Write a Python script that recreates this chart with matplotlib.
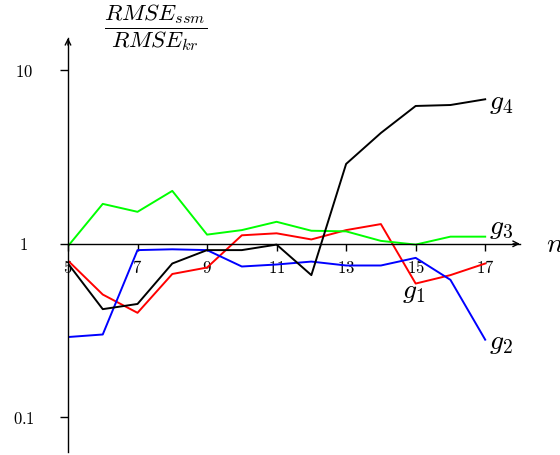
import numpy as np
import matplotlib
matplotlib.use("Agg")
import matplotlib.pyplot as plt
from matplotlib.ticker import FixedLocator, NullLocator, FixedFormatter

plt.rcParams['mathtext.fontset'] = 'cm'
plt.rcParams['font.family'] = 'serif'
plt.rcParams['font.serif'] = ['DejaVu Serif']

# ratio RMSE_ssm / RMSE_kr against n
n = [5, 6, 7, 8, 9, 10, 11, 12, 13, 14, 15, 16, 17]
g1 = [0.80, 0.51, 0.40, 0.67, 0.73, 1.12, 1.15, 1.06, 1.20, 1.30, 0.59, 0.66, 0.77]
g2 = [0.29, 0.30, 0.92, 0.93, 0.92, 0.74, 0.76, 0.79, 0.75, 0.75, 0.83, 0.62, 0.28]
g3 = [0.97, 1.70, 1.53, 2.02, 1.13, 1.20, 1.34, 1.19, 1.18, 1.04, 0.99, 1.10, 1.10]
g4 = [0.77, 0.42, 0.45, 0.77, 0.92, 0.92, 0.99, 0.66, 2.89, 4.36, 6.24, 6.32, 6.82]

xticks = [5, 7, 9, 11, 13, 15, 17]
yticks = [0.1, 1, 10]
ytick_labels = ['0.1', '1', '10']

fig = plt.figure(figsize=(5.6, 4.55), dpi=100)
ax = fig.add_axes([0.1214, 0.0066, 0.8071, 0.910])

ax.plot(n, g1, color='#ff0000', lw=1.4)
ax.plot(n, g2, color='#0000ff', lw=1.4)
ax.plot(n, g3, color='#00ff00', lw=1.4)
ax.plot(n, g4, color='black', lw=1.4)

ax.set_yscale('log')
ax.set_xlim(5, 18)
ax.set_ylim(0.063, 15.4)

# axes through (5, 1)
ax.spines['left'].set_position(('data', 5))
ax.spines['bottom'].set_position(('data', 1))
ax.spines['right'].set_visible(False)
ax.spines['top'].set_visible(False)
for s in ['left', 'bottom']:
    ax.spines[s].set_linewidth(1.0)

ax.annotate('', xy=(18, 1), xytext=(17.8, 1),
            arrowprops=dict(arrowstyle='->', lw=1.0, color='black',
                            shrinkA=0, shrinkB=0, mutation_scale=10))
ax.annotate('', xy=(5, 15.4), xytext=(5, 14.0),
            arrowprops=dict(arrowstyle='->', lw=1.0, color='black',
                            shrinkA=0, shrinkB=0, mutation_scale=10))

ax.xaxis.set_major_locator(FixedLocator(xticks))
ax.xaxis.set_major_formatter(FixedFormatter(['$%d$' % t for t in xticks]))
ax.yaxis.set_major_locator(FixedLocator(yticks))
ax.yaxis.set_minor_locator(NullLocator())
ax.yaxis.set_major_formatter(FixedFormatter(['$%s$' % t for t in ytick_labels]))
ax.tick_params(axis='x', direction='out', length=5, width=1.0, pad=7, labelsize=12)
ax.tick_params(axis='y', direction='out', length=6, width=1.0, pad=26, labelsize=12)
plt.setp(ax.get_yticklabels(), ha='center')

# curve names
ax.text(17.1, 6.5, '$g_4$', fontsize=20, va='center', ha='left')
ax.text(17.1, 1.25, '$g_3$', fontsize=20, va='center', ha='left')
ax.text(14.95, 0.53, '$g_1$', fontsize=20, va='center', ha='center')
ax.text(17.1, 0.27, '$g_2$', fontsize=20, va='center', ha='left')
ax.text(18.75, 0.99, '$n$', fontsize=20, va='center', ha='left')

fig.text(0.277, 0.939, r'$\dfrac{RMSE_{ssm}}{RMSE_{kr}}$', fontsize=16.5,
         ha='center', va='center')

fig.savefig('out.png', dpi=100)
